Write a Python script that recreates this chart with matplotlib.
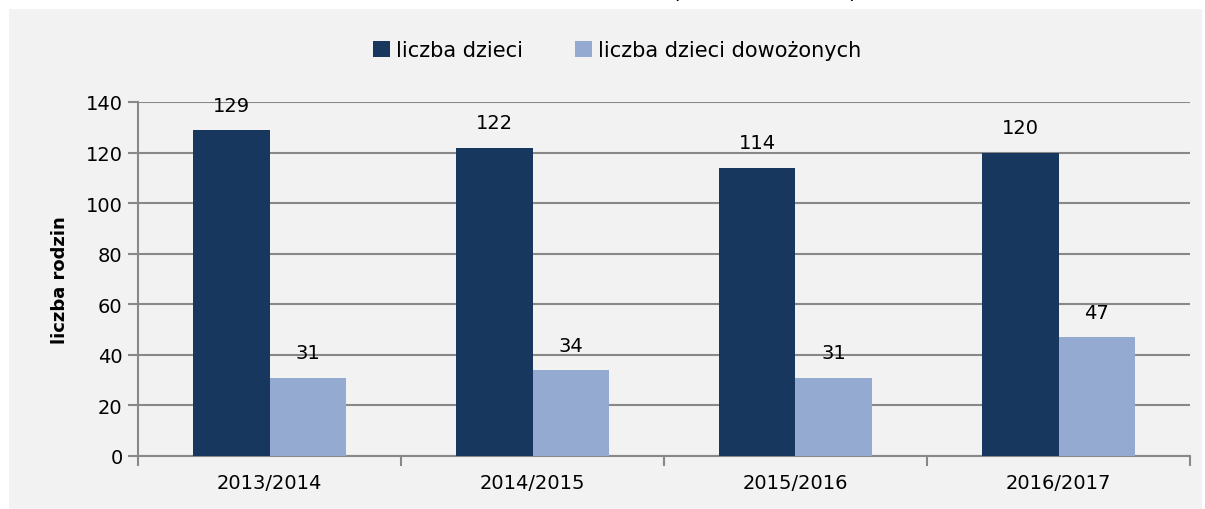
import matplotlib
matplotlib.use("Agg")
import matplotlib.pyplot as plt
from matplotlib.patches import Rectangle
import numpy as np

# data
years = ["2013/2014", "2014/2015", "2015/2016", "2016/2017"]
dzieci = [129, 122, 114, 120]
dowozone = [31, 34, 31, 47]
series_names = ["liczba dzieci", "liczba dzieci dowożonych"]
yticks = [0, 20, 40, 60, 80, 100, 120, 140]

dark = "#17375E"
light = "#95AAD1"
grid_col = "#888888"

fig = plt.figure(figsize=(12.05, 5.10), dpi=100)
fig.patch.set_facecolor("white")

# gray panel behind the whole chart
fig.patches.append(Rectangle((9 / 1205, 0), 1202 / 1205 - 9 / 1205, 1 - 10 / 510,
                             transform=fig.transFigure, facecolor="#F2F2F2",
                             edgecolor="none", zorder=-10))

# clipped title above the panel (only the bottoms of the brackets show)
fig.text(675 / 1205, 1.0 + 0.016, "(", fontsize=16, ha="center", va="center")
fig.text(853 / 1205, 1.0 + 0.016, ")", fontsize=16, ha="center", va="center")

ax = fig.add_axes([138 / 1205, 1 - 457 / 510, (1190 - 138) / 1205, (457 - 103) / 510])
ax.set_facecolor("none")

x = np.arange(len(years))
w = 0.289
b1 = ax.bar(x - w / 2, dzieci, w, color=dark, label=series_names[0], zorder=3)
b2 = ax.bar(x + w / 2, dowozone, w, color=light, label=series_names[1], zorder=3)

for bars in (b1, b2):
    for r in bars:
        ax.annotate(str(int(r.get_height())), (r.get_x() + r.get_width() / 2, r.get_height()),
                    xytext=(0, 11), textcoords="offset points", ha="center", va="bottom",
                    fontsize=14, color="black")

ax.set_xlim(-0.5, len(years) - 0.5)
ax.set_ylim(0, 140)
ax.set_yticks(yticks)
ax.set_xticks(x)
ax.set_xticklabels(years, fontsize=14)
ax.tick_params(axis="y", labelsize=14, length=7, width=1.5, color=grid_col, pad=4)
ax.set_xticks(np.arange(len(years) + 1) - 0.5, minor=True)
ax.tick_params(axis="x", which="major", length=0, pad=12)
ax.tick_params(axis="x", which="minor", length=7, width=1.5, color=grid_col)

ax.yaxis.grid(True, color=grid_col, linewidth=1.5, zorder=1)
ax.set_axisbelow(True)
for s in ["top", "right"]:
    ax.spines[s].set_visible(False)
for s in ["left", "bottom"]:
    ax.spines[s].set_color(grid_col)
    ax.spines[s].set_linewidth(1.5)

ax.set_ylabel("liczba rodzin", fontsize=13, fontweight="bold", labelpad=12)

fig.legend(loc="center", bbox_to_anchor=(617 / 1205, 1 - 51 / 510), ncol=2,
           frameon=False, fontsize=15, handlelength=0.8, handleheight=0.8,
           handletextpad=0.3, columnspacing=2.5)

fig.savefig("out.png", dpi=100, facecolor=fig.get_facecolor())
